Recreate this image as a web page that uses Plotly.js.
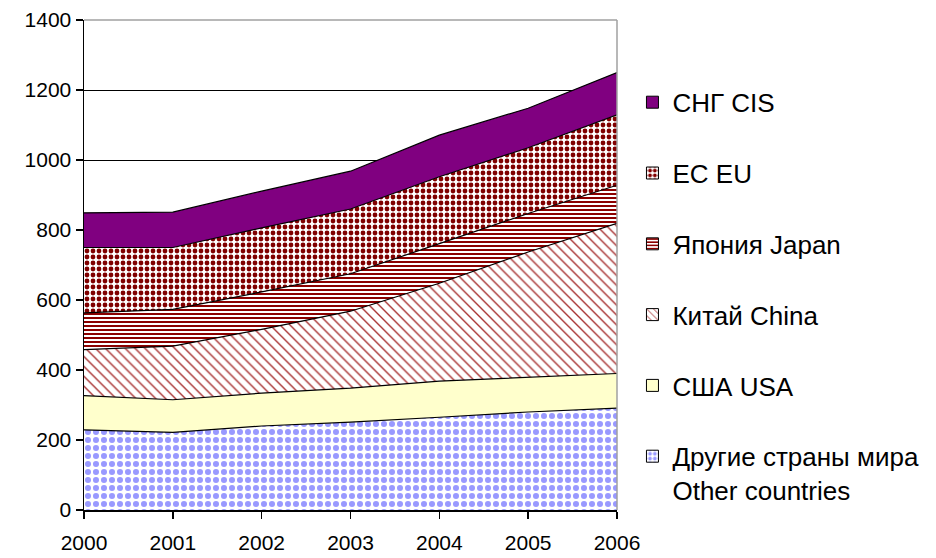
<!DOCTYPE html>
<html>
<head>
<meta charset="utf-8">
<script src="https://cdn.plot.ly/plotly-3.0.1.min.js"></script>
<style>html,body{margin:0;padding:0;background:#fff;}#chart{width:936px;height:558px;}</style>
</head>
<body>
<div id="chart"></div>
<script>
// Data
const years = [2000, 2001, 2002, 2003, 2004, 2005, 2006];
const other = [229, 222, 240, 251, 265, 280, 291];
const usa = [98, 93, 94, 97, 103, 100, 99];
const china = [131, 153, 182, 220, 280, 357, 429];
const japan = [105, 105, 107, 107, 113, 110, 109];
const eu = [187, 177, 183, 185, 191, 188, 201];
const cis = [99, 101, 105, 108, 119, 113, 121];
const seriesNames = [
  'Другие страны мира<br>Other countries',
  'США USA',
  'Китай China',
  'Япония Japan',
  'ЕС EU',
  'СНГ CIS'
];
const yTicks = [0, 200, 400, 600, 800, 1000, 1200, 1400];

// Styles
const styles = [
  {color: '#ffffff', pattern: {shape: '.', fgcolor: '#9999ff', bgcolor: '#ffffff', size: 8, solidity: 0.45}},
  {color: '#ffffcc', pattern: null},
  {color: '#ffffff', pattern: {shape: '\\', fgcolor: '#a83232', bgcolor: '#ffffff', size: 7, solidity: 0.2}},
  {color: '#ffffff', pattern: {shape: '-', fgcolor: '#8b0000', bgcolor: '#ffffff', size: 4, solidity: 0.5}},
  {color: '#ffffff', pattern: {shape: '.', fgcolor: '#800000', bgcolor: '#ffffff', size: 6, solidity: 0.5}},
  {color: '#800080', pattern: null}
];
const values = [other, usa, china, japan, eu, cis];

const traces = [];
values.forEach((v, i) => {
  const s = styles[i];
  const t = {
    type: 'scatter', mode: 'lines', x: years, y: v, stackgroup: 'one',
    name: seriesNames[i], showlegend: false,
    line: {color: '#000000', width: 1.2},
    fillcolor: s.color, hoverinfo: 'skip'
  };
  if (s.pattern) t.fillpattern = s.pattern;
  traces.push(t);
});
// legend-only entries (square swatches), CIS first
for (let i = values.length - 1; i >= 0; i--) {
  const s = styles[i];
  const m = {color: s.pattern ? s.pattern.bgcolor : s.color, line: {color: '#000000', width: 1}};
  if (s.pattern) m.pattern = Object.assign({}, s.pattern, {size: Math.min(s.pattern.size, 6)});
  traces.push({
    type: 'bar', x: [null], y: [null], name: seriesNames[i],
    legendgroup: 'g' + i, showlegend: true, marker: m, hoverinfo: 'skip'
  });
}

const layout = {
  width: 936, height: 558,
  margin: {l: 84, r: 314, t: 20, b: 48, pad: 0},
  paper_bgcolor: '#ffffff', plot_bgcolor: '#ffffff',
  font: {family: 'Arial, "Liberation Sans", sans-serif', color: '#000000', size: 21},
  showlegend: true,
  legend: {
    x: 1.029, xanchor: 'left', y: 0.88, yanchor: 'top',
    traceorder: 'grouped', tracegroupgap: 34, valign: 'top',
    font: {size: 26, family: 'Arial, "Liberation Sans", sans-serif', color: '#000000'},
    bgcolor: 'rgba(0,0,0,0)', borderwidth: 0
  },
  xaxis: {
    type: 'linear', range: [2000, 2006], tickvals: years, ticktext: years.map(String),
    showgrid: false, zeroline: false, showline: true, linecolor: '#000000', linewidth: 1.5,
    ticks: 'outside', ticklen: 7, tickcolor: '#000000', tickwidth: 1.5,
    ticklabelstandoff: 6,
    tickfont: {size: 21}
  },
  yaxis: {
    range: [0, 1400], tickvals: yTicks, ticktext: yTicks.map(String),
    showgrid: true, gridcolor: '#000000', gridwidth: 1,
    zeroline: false, showline: true, linecolor: '#000000', linewidth: 1.5,
    ticks: 'outside', ticklen: 7, tickcolor: '#000000', tickwidth: 1.5,
    tickfont: {size: 21}
  },
  shapes: [
    {type: 'line', xref: 'paper', yref: 'paper', x0: 0, x1: 1, y0: 1, y1: 1, line: {color: '#a0a0a0', width: 1.5}, layer: 'above'},
    {type: 'line', xref: 'paper', yref: 'paper', x0: 1, x1: 1, y0: 0, y1: 1, line: {color: '#a0a0a0', width: 1.5}, layer: 'above'}
  ]
};

Plotly.newPlot('chart', traces, layout, {displayModeBar: false, staticPlot: true});
</script>
</body>
</html>
